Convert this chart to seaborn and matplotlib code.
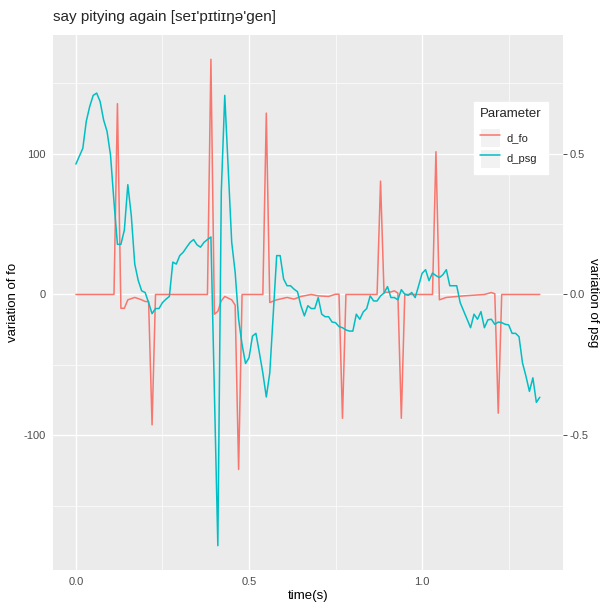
import numpy as np
import pandas as pd
import matplotlib
matplotlib.use("Agg")
import matplotlib.pyplot as plt
import seaborn as sns
from matplotlib.legend_handler import HandlerLine2D
from matplotlib.patches import Rectangle

# ---- data ----
fo_time = [0.00, 0.11, 0.12, 0.13, 0.14, 0.15, 0.17, 0.19, 0.20, 0.21,
           0.22, 0.23, 0.38, 0.39, 0.40, 0.41, 0.42, 0.43, 0.45, 0.46,
           0.47, 0.48, 0.54, 0.55, 0.56, 0.58, 0.61, 0.63, 0.65, 0.68,
           0.70, 0.73, 0.75, 0.76, 0.77, 0.78, 0.87, 0.88, 0.89, 0.91,
           0.92, 0.93, 0.94, 0.95, 1.03, 1.04, 1.05, 1.07, 1.12, 1.18,
           1.20, 1.21, 1.22, 1.23, 1.34]
fo_vals = [0, 0, 135.5, -9.8, -9.8, -3.8, -2.1, -3.8, -5.0, -5.0,
           -92.6, 0, 0, 167, -14, -12, -4.5, -1.4, -3.8, -7.6,
           -124.3, 0, 0, 128.8, -5.7, -3.8, -2.1, -3.3, -1.4, 0,
           -1.0, -1.4, 0.2, 0.2, -87.9, 0, 0, 80.5, 1.4, 1.8,
           2.6, 1.0, -87.9, 0, 0, 101.4, -3.8, -2.1, -1.0, 0,
           1.4, 0.5, -84.3, 0, 0]

psg_time = [0.00, 0.02, 0.03, 0.04, 0.05, 0.06, 0.07, 0.08, 0.09, 0.10,
            0.11, 0.12, 0.13, 0.14, 0.15, 0.16, 0.17, 0.18, 0.19, 0.20,
            0.21, 0.22, 0.23, 0.24, 0.25, 0.26, 0.27, 0.28, 0.29, 0.30,
            0.31, 0.32, 0.33, 0.34, 0.35, 0.36, 0.37, 0.38, 0.39, 0.41,
            0.42, 0.43, 0.45, 0.46, 0.47, 0.48, 0.49, 0.50, 0.51, 0.52,
            0.53, 0.54, 0.55, 0.56, 0.58, 0.59, 0.60, 0.61, 0.62, 0.63,
            0.64, 0.65, 0.66, 0.67, 0.68, 0.69, 0.70, 0.71, 0.72, 0.73,
            0.74, 0.75, 0.76, 0.77, 0.78, 0.79, 0.80, 0.81, 0.82, 0.83,
            0.84, 0.85, 0.86, 0.87, 0.88, 0.89, 0.90, 0.91, 0.92, 0.93,
            0.94, 0.95, 0.96, 0.97, 0.98, 0.99, 1.00, 1.01, 1.02, 1.03,
            1.04, 1.05, 1.06, 1.07, 1.08, 1.09, 1.10, 1.11, 1.12, 1.13,
            1.14, 1.15, 1.16, 1.17, 1.18, 1.19, 1.20, 1.21, 1.22, 1.23,
            1.24, 1.25, 1.26, 1.27, 1.28, 1.29, 1.30, 1.31, 1.32, 1.33,
            1.34]
psg_vals = [0.463, 0.519, 0.615, 0.668, 0.707, 0.715, 0.685, 0.620, 0.579, 0.495,
            0.329, 0.178, 0.178, 0.229, 0.390, 0.280, 0.108, 0.050, 0.013, 0.007,
            -0.029, -0.068, -0.050, -0.050, -0.029, -0.017, -0.007, 0.115, 0.108, 0.138,
            0.150, 0.168, 0.185, 0.195, 0.176, 0.168, 0.185, 0.195, 0.204, -0.892,
            0.365, 0.707, 0.186, 0.079, -0.088, -0.178, -0.245, -0.225, -0.148, -0.138,
            -0.207, -0.279, -0.364, -0.279, 0.138, 0.138, 0.055, 0.031, 0.031, 0.019,
            0.010, -0.040, -0.076, -0.040, -0.050, -0.050, -0.011, -0.070, -0.079, -0.079,
            -0.098, -0.100, -0.114, -0.118, -0.126, -0.130, -0.130, -0.070, -0.088, -0.062,
            -0.050, -0.005, -0.023, -0.023, -0.005, 0.005, 0.028, -0.011, -0.011, -0.019,
            0.017, 0.001, -0.003, 0.007, -0.011, 0.031, 0.075, 0.088, 0.049, 0.076,
            0.067, 0.060, 0.070, 0.088, 0.031, 0.031, 0.031, -0.029, -0.058, -0.088,
            -0.118, -0.070, -0.088, -0.061, -0.118, -0.090, -0.088, -0.106, -0.098, -0.100,
            -0.106, -0.108, -0.138, -0.138, -0.150, -0.243, -0.290, -0.344, -0.296, -0.383,
            -0.365]

series_names = ["d_fo", "d_psg"]
psg_scale = 200  # secondary axis factor

title = "say pitying again [seɪ'pɪtiɪŋə'gen]"
x_label = "time(s)"
y_label_left = "variation of fo"
y_label_right = "variation of psg"
legend_title = "Parameter"
x_ticks = [0.0, 0.5, 1.0]
x_tick_labels = ["0.0", "0.5", "1.0"]
y_ticks = [-100, 0, 100]
y_tick_labels = ["-100", "0", "100"]
y2_ticks = [-0.5, 0.0, 0.5]
y2_tick_labels = ["-0.5", "0.0", "0.5"]

# ---- build table ----
df = pd.concat([
    pd.DataFrame({"time": fo_time, "value": fo_vals, "Parameter": series_names[0]}),
    pd.DataFrame({"time": psg_time, "value": np.array(psg_vals) * psg_scale,
                  "Parameter": series_names[1]}),
], ignore_index=True)

sns.set_theme(style="darkgrid")
plt.rcParams["font.family"] = ["Liberation Sans", "DejaVu Sans"]
plt.rcParams["axes.unicode_minus"] = False

colors = {"d_fo": "#F8766D", "d_psg": "#00BFC4"}

W, H = 600, 603
fig = plt.figure(figsize=(W / 100, H / 100), dpi=100)
fig.patch.set_facecolor("white")
pl, pr, pt, pb = 52.7, 563.0, 35.0, 570.0
ax = fig.add_axes([pl / W, (H - pb) / H, (pr - pl) / W, (pb - pt) / H])
ax.set_facecolor("#EBEBEB")

sns.lineplot(data=df, x="time", y="value", hue="Parameter", hue_order=series_names,
             palette=colors, estimator=None, sort=False, linewidth=1.1, ax=ax,
             legend=False)

# ggplot-like expansion
xmin, xmax = df["time"].min(), df["time"].max()
ymin, ymax = df["value"].min(), df["value"].max()
xr, yr = xmax - xmin, ymax - ymin
ax.set_xlim(xmin - 0.05 * xr, xmax + 0.05 * xr)
ax.set_ylim(ymin - 0.05 * yr, ymax + 0.05 * yr)

ax.set_xticks(x_ticks)
ax.set_xticklabels(x_tick_labels)
ax.set_yticks(y_ticks)
ax.set_yticklabels(y_tick_labels)
ax.set_xticks([0.25, 0.75, 1.25], minor=True)
ax.set_yticks([-150, -50, 50, 150], minor=True)
ax.grid(which="major", color="white", linewidth=1.0)
ax.grid(which="minor", color="white", linewidth=0.5)
ax.set_axisbelow(True)
for s in ax.spines.values():
    s.set_visible(False)

tick_kw = dict(labelsize=8, labelcolor="#4D4D4D", color="#333333", length=3.0, width=0.6, pad=2)
ax.tick_params(axis="both", which="major", **tick_kw)
ax.tick_params(axis="both", which="minor", length=0)

ax.set_xlabel(x_label, fontsize=9.5, color="black")
ax.set_ylabel(y_label_left, fontsize=9.5, color="black")
ax.xaxis.set_label_coords((pl + pr) / 2 / W, 1 - 595.5 / H, transform=fig.transFigure)
ax.yaxis.set_label_coords(13 / W, 1 - (pt + pb) / 2 / H, transform=fig.transFigure)
ax.xaxis.label.set_va("center")
ax.yaxis.label.set_va("center")

sec = ax.secondary_yaxis("right", functions=(lambda y: y / psg_scale, lambda y: y * psg_scale))
sec.set_yticks(y2_ticks)
sec.set_yticklabels(y2_tick_labels)
sec.tick_params(axis="y", which="major", **tick_kw)
sec.tick_params(axis="y", which="minor", length=0)
for s in sec.spines.values():
    s.set_visible(False)
sec.set_ylabel(y_label_right, fontsize=9.5, color="black", rotation=-90, va="center")
sec.yaxis.set_label_coords(593 / W, 1 - (pt + pb) / 2 / H, transform=fig.transFigure)

fig.text(pl / W, 1 - 17.5 / H, title, fontsize=11, ha="left", va="center",
         family=["Liberation Sans", "DejaVu Sans"])

# legend with grey key backgrounds
class KeyHandler(HandlerLine2D):
    def create_artists(self, legend, orig_handle, xdescent, ydescent, width, height, fontsize, trans):
        rect = Rectangle((-xdescent, -ydescent), width, height,
                         facecolor="#F2F2F2", edgecolor="white", linewidth=0.8, transform=trans)
        arts = super().create_artists(legend, orig_handle, xdescent, ydescent, width, height, fontsize, trans)
        return [rect] + arts

handles = [plt.Line2D([], [], color=colors[n], linewidth=1.1) for n in series_names]
leg = ax.legend(handles, series_names, title=legend_title, loc="upper left",
                bbox_to_anchor=(474 / W, 1 - 102 / H), bbox_transform=fig.transFigure,
                frameon=True, facecolor="white", edgecolor="white", fancybox=False,
                framealpha=1, fontsize=8, title_fontsize=9.5, handlelength=1.8,
                handleheight=2.25, handletextpad=0.6, labelspacing=0.12, borderpad=0.55,
                borderaxespad=0, handler_map={plt.Line2D: KeyHandler()})
leg._legend_box.align = "left"
leg._legend_box.sep = 6

fig.savefig("out.png", dpi=100, facecolor="white")
